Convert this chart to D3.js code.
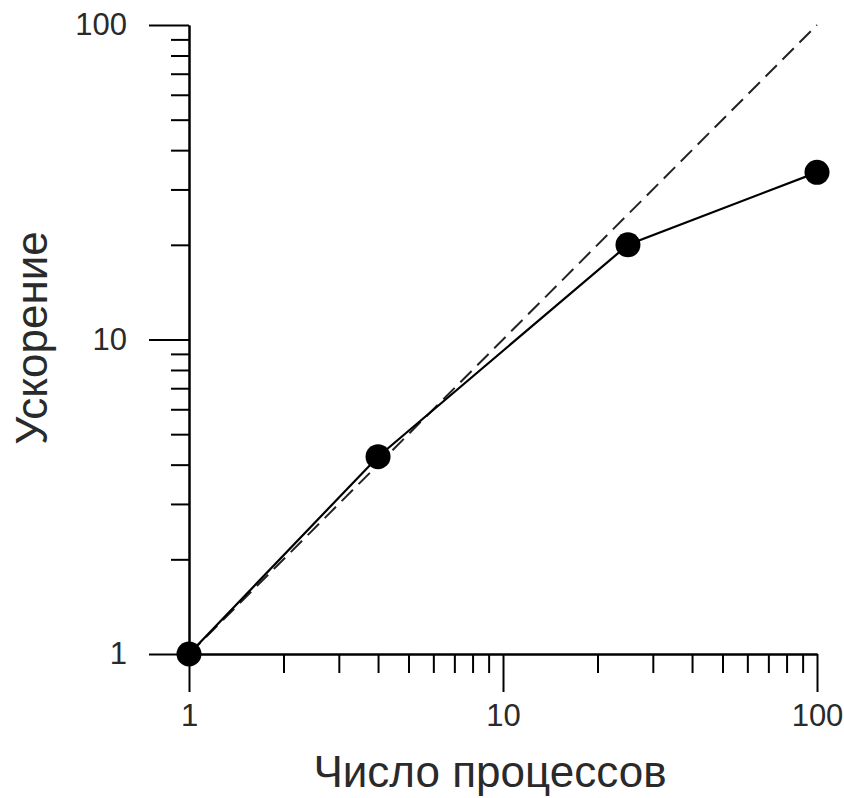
<!DOCTYPE html>
<html>
<head>
<meta charset="utf-8">
<script src="https://cdn.jsdelivr.net/npm/d3@7"></script>
<style>
  body { margin: 0; background: #fff; }
  svg { display: block; font-family: "Liberation Sans", Arial, sans-serif; }
</style>
</head>
<body>
<script>
let width = 844, height = 798
let margin = { top: 25, right: 27, bottom: 144, left: 189 }

// data
let processes = [1, 4, 25, 100]
let speedup = [1, 4.24, 20, 34]
let ideal = [1, 100]
let majorTicks = [1, 10, 100]
let minorTicks = [2, 3, 4, 5, 6, 7, 8, 9, 20, 30, 40, 50, 60, 70, 80, 90]
let xTitle = 'Число процессов'
let yTitle = 'Ускорение'

let data = processes.map((p, i) => ({ x: p, y: speedup[i] }))

let svg = d3.select('body').append('svg')
    .attr('width', width).attr('height', height)

let x = d3.scaleLog().domain([1, 100]).range([margin.left, width - margin.right])
let y = d3.scaleLog().domain([1, 100]).range([height - margin.bottom, margin.top])

let styleAxis = g => g
    .call(g => g.selectAll('line, path').attr('stroke', '#000').attr('stroke-width', 2))
    .call(g => g.selectAll('text').attr('font-size', 31).attr('fill', '#2a2a2a'))

// x axis: minor then major
svg.append('g')
    .attr('transform', `translate(0, ${y(1)})`)
    .call(d3.axisBottom(x).tickValues(minorTicks).tickSize(19).tickSizeOuter(0).tickFormat(''))
    .call(styleAxis)
svg.append('g')
    .attr('transform', `translate(0, ${y(1)})`)
    .call(d3.axisBottom(x).tickValues(majorTicks).tickSize(38).tickSizeOuter(0).tickPadding(12).tickFormat(d3.format('d')))
    .call(styleAxis)
    .call(g => g.selectAll('text').attr('dy', '0.71em'))

// y axis
svg.append('g')
    .attr('transform', `translate(${x(1)}, 0)`)
    .call(d3.axisLeft(y).tickValues(minorTicks).tickSize(18).tickSizeOuter(0).tickFormat(''))
    .call(styleAxis)
svg.append('g')
    .attr('transform', `translate(${x(1)}, 0)`)
    .call(d3.axisLeft(y).tickValues(majorTicks).tickSize(40).tickSizeOuter(0).tickPadding(22).tickFormat(d3.format('d')))
    .call(styleAxis)

// ideal speedup (dashed)
svg.append('line')
    .attr('x1', x(ideal[0])).attr('y1', y(ideal[0]))
    .attr('x2', x(ideal[1])).attr('y2', y(ideal[1]))
    .attr('stroke', '#222').attr('stroke-width', 2)
    .attr('stroke-dasharray', '16,8')

// measured speedup
let line = d3.line().x(d => x(d.x)).y(d => y(d.y))
svg.append('path')
    .datum(data)
    .attr('d', line)
    .attr('fill', 'none')
    .attr('stroke', '#000')
    .attr('stroke-width', 2.2)

svg.selectAll('circle.pt')
    .data(data).enter().append('circle')
    .attr('class', 'pt')
    .attr('cx', d => x(d.x)).attr('cy', d => y(d.y))
    .attr('r', 12.5)
    .attr('fill', '#000')

// titles
svg.append('text')
    .attr('x', 490).attr('y', 787)
    .attr('text-anchor', 'middle')
    .attr('font-size', 44)
    .attr('fill', '#2a2a2a')
    .text(xTitle)

svg.append('text')
    .attr('transform', `translate(47, 338) rotate(-90)`)
    .attr('text-anchor', 'middle')
    .attr('font-size', 44)
    .attr('fill', '#2a2a2a')
    .text(yTitle)
</script>
</body>
</html>
